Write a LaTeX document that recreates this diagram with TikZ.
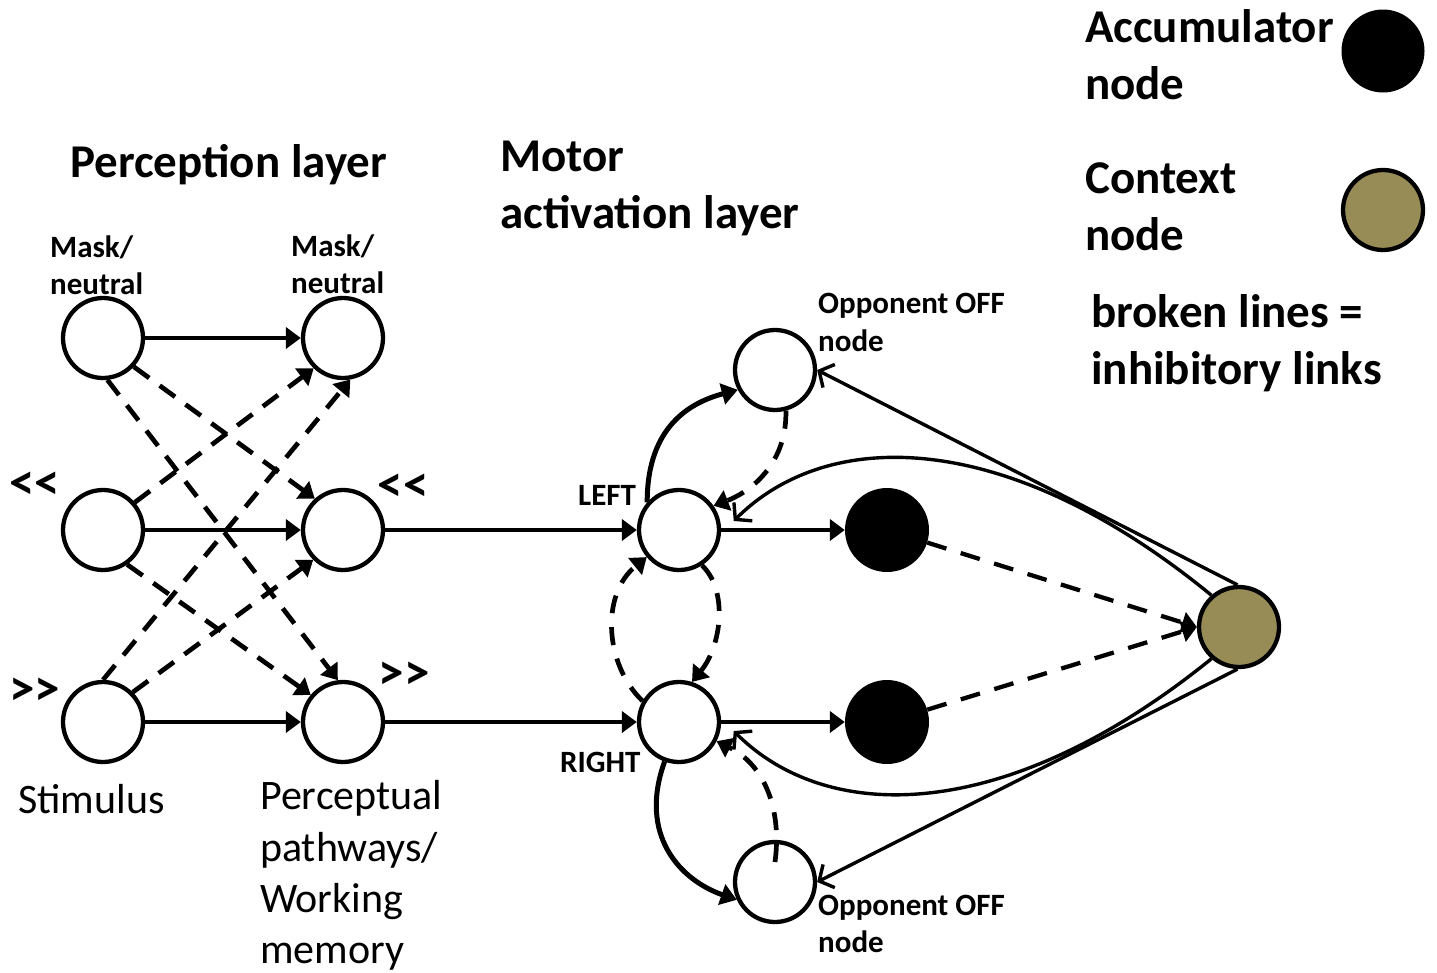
\documentclass[tikz,border=0pt]{standalone}
\usepackage{fontspec}
\setmainfont{Carlito}
\usetikzlibrary{arrows.meta}
\definecolor{ctxfill}{RGB}{151,140,86}

\begin{document}
\begin{tikzpicture}[x=1pt,y=-1pt,
  unit/.style={circle, draw, line width=4.3pt, minimum size=80pt, inner sep=0pt, fill=white},
  accnode/.style={circle, fill=black, minimum size=84pt, inner sep=0pt},
  ctxnode/.style={circle, draw, line width=4.3pt, fill=ctxfill, minimum size=80pt, inner sep=0pt},
  exc/.style={line width=4.3pt, -{Triangle[length=15pt,width=21pt]}},
  thickexc/.style={line width=5pt, -{Triangle[length=16pt,width=21pt]}},
  inh/.style={line width=4.7pt, dash pattern=on 19pt off 13pt, -{Triangle[length=15pt,width=21pt]}},
  ctxlink/.style={line width=3.4pt, -{Straight Barb[length=11pt,width=26pt]}},
  bigtxt/.style={font=\bfseries\fontsize{47}{57}\selectfont, inner sep=0pt, anchor=base west},
  smalltxt/.style={font=\bfseries\fontsize{31}{38}\selectfont, inner sep=0pt, anchor=base west},
  captxt/.style={font=\fontsize{42}{52}\selectfont, inner sep=0pt, anchor=base west},
  dirtxt/.style={font=\bfseries\fontsize{51}{58}\selectfont, inner sep=0pt}
]
\useasboundingbox (0,0) rectangle (1437,972);

% ---------- perception layer ----------
\node[unit] (m1) at (103,338) {};
\node[unit] (l1) at (103,530) {};
\node[unit] (r1) at (103,722) {};
\node[unit] (m2) at (343,338) {};
\node[unit] (l2) at (343,530) {};
\node[unit] (r2) at (343,722) {};

% ---------- motor activation layer ----------
\node[unit] (L) at (679,530) {};
\node[unit] (R) at (679,722) {};
\node[unit] (offT) at (775,370) {};
\node[unit] (offB) at (775,882) {};
\node[accnode] (accT) at (887,530) {};
\node[accnode] (accB) at (887,722) {};
\node[ctxnode] (ctx) at (1239,627) {};
\coordinate (offBin) at (775,862);

% ---------- legend symbols ----------
\node[accnode, minimum size=83pt] (accLeg) at (1383,51) {};
\node[ctxnode, minimum size=80pt] (ctxLeg) at (1383,210) {};

% ---------- titles and labels ----------
\node[bigtxt] (tPerc) at (70,177) {Perception layer};
\node[bigtxt] (tMotor1) at (500,171) {Motor};
\node[bigtxt] (tMotor2) at (500,228) {activation layer};
\node[bigtxt] (tAcc1) at (1085,42) {Accumulator};
\node[bigtxt] (tAcc2) at (1085,99) {node};
\node[bigtxt] (tCtx1) at (1085,193) {Context};
\node[bigtxt] (tCtx2) at (1085,250) {node};
\node[bigtxt] (tBr1) at (1091,327) {broken lines =};
\node[bigtxt] (tBr2) at (1091,384) {inhibitory links};

\node[smalltxt] (tMask1a) at (50,257) {Mask/};
\node[smalltxt] (tMask1b) at (50,294) {neutral};
\node[smalltxt] (tMask2a) at (291,256) {Mask/};
\node[smalltxt] (tMask2b) at (291,293) {neutral};
\node[smalltxt] (tOffT1) at (818,313) {Opponent OFF};
\node[smalltxt] (tOffT2) at (818,351) {node};
\node[smalltxt] (tOffB1) at (818,915) {Opponent OFF};
\node[smalltxt] (tOffB2) at (818,952) {node};
\node[smalltxt] (tLeft) at (578,505) {LEFT};
\node[smalltxt] (tRight) at (560,772) {RIGHT};

% direction symbols (kern keeps the pair from merging into a guillemet)
\node[dirtxt] (dL1) at (35,486) {<\kern0pt<};
\node[dirtxt] (dL2) at (403,488) {<\kern0pt<};
\node[dirtxt] (dR1) at (35,692) {>\kern0pt>};
\node[dirtxt] (dR2) at (404,676) {>\kern0pt>};

\node[captxt] (tStim) at (18,813) {Stimulus};
\node[captxt] (tPp1) at (260,809) {Perceptual};
\node[captxt] (tPp2) at (260,861) {pathways/};
\node[captxt] (tPp3) at (260,912) {Working};
\node[captxt] (tPp4) at (260,963) {memory};

% ---------- perception links ----------
\draw[exc] (m1) -- (m2);
\draw[exc] (l1) -- (l2);
\draw[exc] (r1) -- (r2);
\draw[inh] (m1.-43) -- (l2.132);
\draw[inh] (m1.-84) -- (r2.97);
\draw[inh] (l1.41) -- (m2.-134);
\draw[inh] (r1.90) -- (m2.-80);
\draw[inh] (l1.-55) -- (r2.140);
\draw[inh] (r1.45) -- (l2.-135);

% ---------- pathways into the motor layer ----------
\draw[exc] (l2) -- (L);
\draw[exc] (r2) -- (R);
\draw[exc] (L) -- (accT);
\draw[exc] (R) -- (accB);

% ---------- opponent loops ----------
\draw[thickexc] (L.139) .. controls (647,425) and (692,402) .. (offT.208);
\draw[inh, dash pattern=on 18pt off 14pt] (offT.-75) .. controls (787,460) and (755,490) .. (L.35);
\draw[thickexc] (R.-110) .. controls (638,835) and (680,880) .. (offB.205);
\draw[inh, dash pattern=on 18pt off 14pt] (offBin) .. controls (782,810) and (765,765) .. (R.-27);

% ---------- mutual inhibition LEFT / RIGHT ----------
\draw[inh, dash pattern=on 18pt off 14pt] (R.150) .. controls (605,665) and (600,595) .. (L.-140);
\draw[inh, dash pattern=on 18pt off 14pt] (L.-57) .. controls (728,590) and (722,645) .. (R.72);

% ---------- accumulators to context ----------
\draw[inh, line width=4.3pt, dash pattern=on 20pt off 15pt] (accT) -- (ctx.180);
\draw[inh, line width=4.3pt, dash pattern=on 20pt off 15pt] (accB) -- (ctx.180);

% ---------- context feedback ----------
\draw[ctxlink] (ctx.92) -- (offT.east);
\draw[ctxlink] (ctx.-92) -- (offB.east);
\draw[ctxlink, shorten >=18pt] (ctx.131) .. controls (1010,430) and (830,425) .. (L.-5);
\draw[ctxlink, shorten >=18pt] (ctx.-131) .. controls (1010,822) and (830,827) .. (R.5);
\end{tikzpicture}
\end{document}
